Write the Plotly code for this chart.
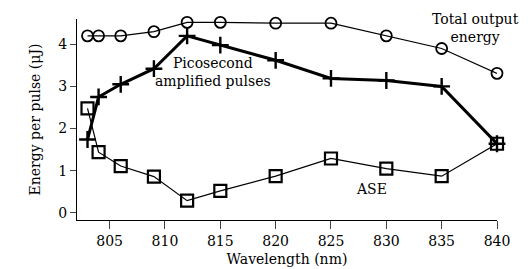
import plotly.graph_objects as go

wavelength = [803, 804, 806, 809, 812, 815, 820, 825, 830, 835, 840]
total_output = [4.2, 4.2, 4.2, 4.3, 4.52, 4.52, 4.5, 4.5, 4.2, 3.9, 3.31]
picosecond = [1.74, 2.75, 3.05, 3.42, 4.2, 3.98, 3.62, 3.19, 3.14, 3.0, 1.64]
ase = [2.48, 1.44, 1.11, 0.86, 0.29, 0.52, 0.87, 1.29, 1.05, 0.87, 1.64]
x_ticks = [805, 810, 815, 820, 825, 830, 835, 840]
y_ticks = [0, 1, 2, 3, 4]

font = "DejaVu Serif"

fig = go.Figure()
fig.add_trace(go.Scatter(
    x=wavelength, y=total_output, mode="lines+markers",
    line=dict(color="black", width=1.2),
    marker=dict(symbol="circle-open", size=11, color="black", line=dict(width=1.8)),
    cliponaxis=False, showlegend=False))
fig.add_trace(go.Scatter(
    x=wavelength, y=ase, mode="lines+markers",
    line=dict(color="black", width=1.2),
    marker=dict(symbol="square-open", size=12, color="black", line=dict(width=2.2)),
    cliponaxis=False, showlegend=False))
fig.add_trace(go.Scatter(
    x=wavelength, y=picosecond, mode="lines+markers",
    line=dict(color="black", width=3),
    marker=dict(symbol="cross-thin-open", size=12, color="black", line=dict(width=2.4)),
    cliponaxis=False, showlegend=False))

fig.add_annotation(x=814.3, y=3.34, text="Picosecond<br>amplified pulses", showarrow=False,
                   font=dict(family=font, size=14, color="black"), align="center")
fig.add_annotation(x=838.1, y=4.38, text="Total output<br>energy", showarrow=False,
                   font=dict(family=font, size=14, color="black"), align="center", xanchor="center")
fig.add_annotation(x=828.7, y=0.57, text="ASE", showarrow=False,
                   font=dict(family=font, size=14, color="black"))

fig.update_layout(
    width=528, height=269,
    margin=dict(l=69, r=39, t=11, b=57),
    paper_bgcolor="white", plot_bgcolor="white",
    font=dict(family=font, size=14, color="black"),
)
fig.update_xaxes(range=[802.05, 840], tickvals=x_ticks, ticks="outside", ticklen=8,
                 tickwidth=1.2, showline=True, linecolor="black", linewidth=1.2,
                 showgrid=False, zeroline=False, tickfont=dict(size=14),
                 title=dict(text="Wavelength (nm)", font=dict(size=14), standoff=6))
fig.update_yaxes(range=[-0.17, 4.6], tickvals=y_ticks, ticks="outside", ticklen=6,
                 tickwidth=1.2, showline=True, linecolor="black", linewidth=1.2,
                 showgrid=False, zeroline=False, tickfont=dict(size=14),
                 title=dict(text="Energy per pulse (μJ)", font=dict(size=14), standoff=14))

fig.write_html("out.html")
